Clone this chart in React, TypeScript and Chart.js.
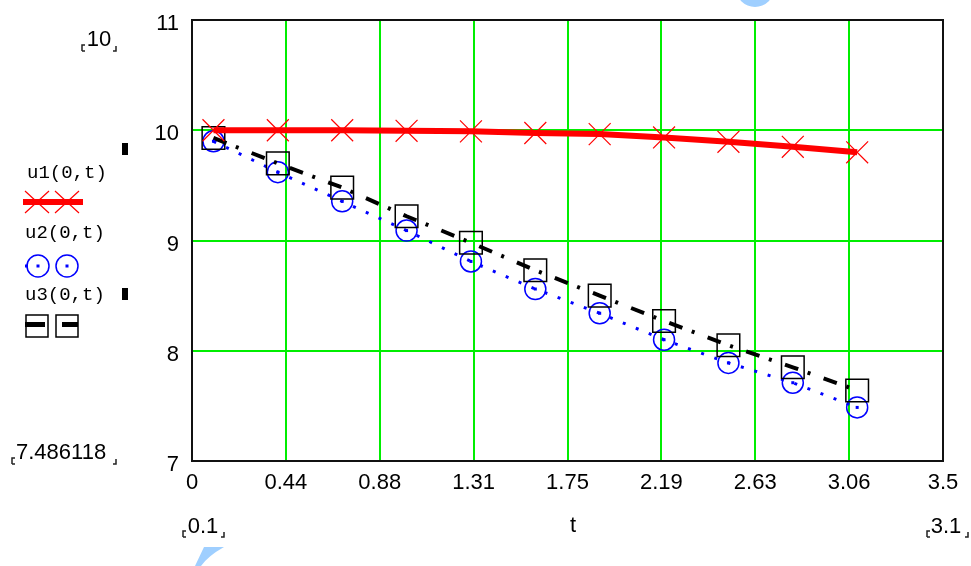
import React, { useEffect, useRef } from "react";
import { Chart, registerables } from "chart.js";

Chart.register(...registerables);

const tValues = [0.1, 0.4, 0.7, 1.0, 1.3, 1.6, 1.9, 2.2, 2.5, 2.8, 3.1];
const u1Values = [10.0, 10.0, 10.0, 9.995, 9.99, 9.975, 9.965, 9.935, 9.895, 9.85, 9.8];
const u2Values = [9.9, 9.62, 9.355, 9.09, 8.81, 8.56, 8.34, 8.1, 7.89, 7.71, 7.486];
const u3Values = [9.93, 9.7, 9.48, 9.22, 8.98, 8.73, 8.5, 8.27, 8.05, 7.85, 7.64];

const xTickValues = [0, 0.4375, 0.875, 1.3125, 1.75, 2.1875, 2.625, 3.0625, 3.5];
const xTickLabels = ["0", "0.44", "0.88", "1.31", "1.75", "2.19", "2.63", "3.06", "3.5"];
const yTickValues = [7, 8, 9, 10, 11];
const yTickLabels = ["7", "8", "9", "10", "11"];

const seriesNames = ["u1(0,t)", "u2(0,t)", "u3(0,t)"];
const xAxisTitle = "t";
const xRangeLabels = ["0.1", "3.1"];
const yRangeLabels = ["10", "7.486118"];

const RED = "#ff0000";
const BLUE = "#0000ff";
const BLACK = "#000000";
const GRID = "#00ee00";
const SANS = "'Liberation Sans', Arial, sans-serif";
const MONO = "'Liberation Mono', 'Courier New', monospace";

function toPoints(ys: number[]) {
  return tValues.map((t, i) => ({ x: t, y: ys[i] }));
}

function corners(ctx: CanvasRenderingContext2D, xl: number, xr: number, y: number) {
  ctx.save();
  ctx.strokeStyle = "#222";
  ctx.lineWidth = 1.5;
  ctx.beginPath();
  ctx.moveTo(xl + 3, y - 6);
  ctx.lineTo(xl, y - 6);
  ctx.lineTo(xl, y);
  ctx.moveTo(xl, y);
  ctx.lineTo(xl + 3, y);
  ctx.moveTo(xr - 3, y);
  ctx.lineTo(xr, y);
  ctx.lineTo(xr, y - 5);
  ctx.stroke();
  ctx.restore();
}

const overlayPlugin = {
  id: "mathcadOverlay",
  afterDatasetsDraw(chart: any) {
    const ctx: CanvasRenderingContext2D = chart.ctx;
    const meta = chart.getDatasetMeta(1);
    ctx.save();
    ctx.fillStyle = BLUE;
    meta.data.forEach((p: any) => {
      ctx.fillRect(p.x - 1.5, p.y - 1.5, 3, 3);
    });
    ctx.restore();
  },
  afterDraw(chart: any) {
    const ctx: CanvasRenderingContext2D = chart.ctx;
    const a = chart.chartArea;
    ctx.save();
    // frame
    ctx.strokeStyle = "#111";
    ctx.lineWidth = 2;
    ctx.strokeRect(a.left, a.top, a.right - a.left, a.bottom - a.top);

    ctx.fillStyle = BLACK;
    ctx.textBaseline = "middle";
    // range labels
    ctx.font = `22px ${SANS}`;
    ctx.textAlign = "center";
    ctx.fillText(yRangeLabels[0], 99, 40);
    corners(ctx, 82, 116, 51);
    ctx.textAlign = "left";
    ctx.fillText(yRangeLabels[1], 16, 453);
    corners(ctx, 12, 116, 464);
    ctx.textAlign = "center";
    ctx.fillText(xRangeLabels[0], 203, 527);
    corners(ctx, 183, 224, 537);
    ctx.fillText(xRangeLabels[1], 946, 527);
    corners(ctx, 927, 968, 537);
    ctx.fillText(xAxisTitle, 573, 526);

    // small markers
    ctx.fillRect(122, 143, 6, 12);
    ctx.fillRect(122, 288, 6, 12);

    // legend texts
    ctx.font = `19px ${MONO}`;
    ctx.textAlign = "left";
    ctx.fillText(seriesNames[0], 27, 173);
    ctx.fillText(seriesNames[1], 25, 233);
    ctx.fillText(seriesNames[2], 25, 295);

    // legend u1
    ctx.strokeStyle = RED;
    ctx.lineWidth = 6;
    ctx.beginPath();
    ctx.moveTo(23, 202);
    ctx.lineTo(83, 202);
    ctx.stroke();
    ctx.lineWidth = 1.2;
    [37, 67].forEach((cx) => {
      ctx.beginPath();
      ctx.moveTo(cx - 12, 202 - 11);
      ctx.lineTo(cx + 12, 202 + 11);
      ctx.moveTo(cx + 12, 202 - 11);
      ctx.lineTo(cx - 12, 202 + 11);
      ctx.stroke();
    });

    // legend u2
    ctx.strokeStyle = BLUE;
    ctx.fillStyle = BLUE;
    ctx.lineWidth = 1.5;
    [38, 67].forEach((cx) => {
      ctx.beginPath();
      ctx.arc(cx, 266, 11, 0, Math.PI * 2);
      ctx.stroke();
      ctx.fillRect(cx - 1.5, 264.5, 3, 3);
    });
    ctx.fillRect(25, 264.5, 3, 3);

    // legend u3
    ctx.strokeStyle = BLACK;
    ctx.fillStyle = BLACK;
    ctx.lineWidth = 1.5;
    ctx.strokeRect(26, 315, 22, 22);
    ctx.strokeRect(56, 315, 22, 22);
    ctx.fillRect(25, 322, 20, 5);
    ctx.fillRect(62, 322, 16, 5);

    // faint watermark fragments
    ctx.fillStyle = "#9fcfff";
    ctx.beginPath();
    ctx.arc(755, -12, 19, 0, Math.PI);
    ctx.fill();
    ctx.beginPath();
    ctx.moveTo(204, 547);
    ctx.lineTo(224, 547);
    ctx.quadraticCurveTo(208, 556, 201, 566);
    ctx.lineTo(195, 566);
    ctx.closePath();
    ctx.fill();
    ctx.restore();
  },
};

export default function App() {
  const ref = useRef<HTMLCanvasElement | null>(null);

  useEffect(() => {
    document.body.style.margin = "0";
    document.body.style.background = "#ffffff";
    if (!ref.current) return;
    const chart = new Chart(ref.current, {
      type: "line",
      data: {
        datasets: [
          {
            label: seriesNames[0],
            data: toPoints(u1Values),
            borderColor: RED,
            borderWidth: 6,
            pointStyle: "crossRot",
            pointRadius: 15.5,
            pointBorderWidth: 1.2,
            pointBorderColor: RED,
            pointBackgroundColor: "transparent",
            tension: 0,
            order: 0,
          },
          {
            label: seriesNames[1],
            data: toPoints(u2Values),
            borderColor: BLUE,
            borderWidth: 3,
            borderDash: [3, 11],
            pointStyle: "circle",
            pointRadius: 10.5,
            pointBorderWidth: 1.5,
            pointBorderColor: BLUE,
            pointBackgroundColor: "transparent",
            tension: 0,
            order: 2,
          },
          {
            label: seriesNames[2],
            data: toPoints(u3Values),
            borderColor: BLACK,
            borderWidth: 4,
            borderDash: [14, 10, 3, 14],
            pointStyle: "rect",
            pointRadius: 16,
            pointBorderWidth: 1.5,
            pointBorderColor: BLACK,
            pointBackgroundColor: "transparent",
            tension: 0,
            order: 1,
          },
        ],
      },
      options: {
        animation: false,
        responsive: false,
        maintainAspectRatio: false,
        events: [],
        layout: { padding: { left: 0, right: 28, top: 20, bottom: 0 } },
        plugins: {
          legend: { display: false },
          tooltip: { enabled: false },
          title: { display: false },
        },
        scales: {
          x: {
            type: "linear",
            min: 0,
            max: 3.5,
            afterBuildTicks: (axis: any) => {
              axis.ticks = xTickValues.map((v) => ({ value: v }));
            },
            afterFit: (scale: any) => {
              scale.height = 105;
              scale.paddingLeft = 0;
              scale.paddingRight = 0;
            },
            ticks: {
              autoSkip: false,
              maxRotation: 0,
              padding: 9,
              color: BLACK,
              font: { family: SANS, size: 22 },
              callback: (_v: any, i: number) => xTickLabels[i],
            },
            grid: { color: GRID, lineWidth: 2, drawTicks: false },
            border: { display: false },
          },
          y: {
            type: "linear",
            min: 7,
            max: 11,
            afterBuildTicks: (axis: any) => {
              axis.ticks = yTickValues.map((v) => ({ value: v }));
            },
            afterFit: (scale: any) => {
              scale.width = 192;
              scale.paddingTop = 0;
              scale.paddingBottom = 0;
            },
            ticks: {
              autoSkip: false,
              padding: 13,
              labelOffset: 4,
              color: BLACK,
              font: { family: SANS, size: 22 },
              callback: (_v: any, i: number) => yTickLabels[i],
            },
            grid: { color: GRID, lineWidth: 2, drawTicks: false },
            border: { display: false },
          },
        },
      },
      plugins: [overlayPlugin],
    });
    return () => chart.destroy();
  }, []);

  return <canvas ref={ref} width={971} height={566} style={{ display: "block", width: 971, height: 566 }} />;
}
